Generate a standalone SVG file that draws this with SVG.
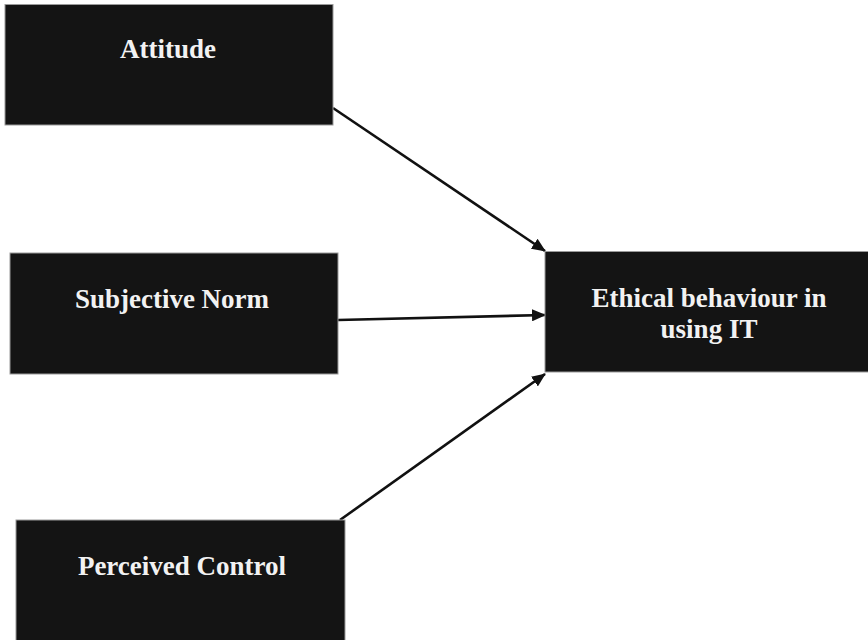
<svg xmlns="http://www.w3.org/2000/svg" width="868" height="640" viewBox="0 0 868 640">
<style>
.box{fill:#141414;stroke:#9a9a9a;stroke-width:1}
.lbl{font-family:"Liberation Serif","Times New Roman",serif;font-weight:bold;font-size:27px;fill:#f2f2f2;text-anchor:middle}
.edge{stroke:#111;stroke-width:2.6;fill:none}
</style>
<defs>
<marker id="ah" markerUnits="userSpaceOnUse" markerWidth="14" markerHeight="12" refX="13" refY="6" orient="auto">
<path d="M0,0 L14,6 L0,12 Z" fill="#111"/>
</marker>
</defs>
<rect width="868" height="640" fill="#fff"/>
<g id="connectors">
<line class="edge" x1="333" y1="108" x2="545" y2="251" marker-end="url(#ah)"/>
<line class="edge" x1="338" y1="320" x2="545" y2="315" marker-end="url(#ah)"/>
<line class="edge" x1="340" y1="520" x2="545" y2="374" marker-end="url(#ah)"/>
</g>
<g id="attitude">
<rect class="box" x="5" y="4.5" width="328" height="120.5"/>
<text class="lbl" x="168" y="58">Attitude</text>
</g>
<g id="subjective-norm">
<rect class="box" x="10" y="253" width="328" height="121"/>
<text class="lbl" x="172" y="308">Subjective Norm</text>
</g>
<g id="perceived-control">
<rect class="box" x="16" y="520" width="329" height="125"/>
<text class="lbl" x="182" y="575">Perceived Control</text>
</g>
<g id="ethical-behaviour">
<rect class="box" x="545" y="251.5" width="328" height="120.5"/>
<text class="lbl" x="709" y="307">Ethical behaviour in</text>
<text class="lbl" x="709" y="338">using IT</text>
</g>
</svg>
